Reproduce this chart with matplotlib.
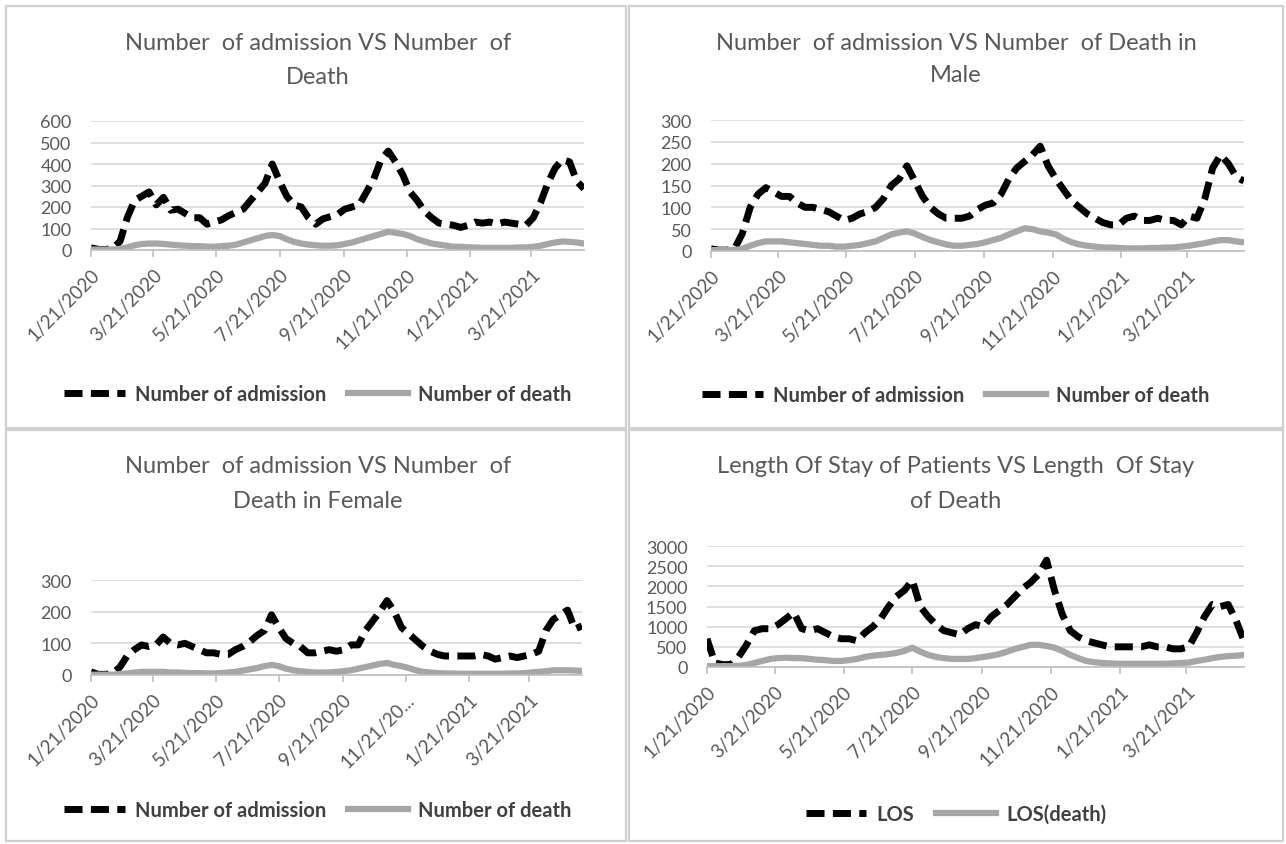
import matplotlib
matplotlib.use("Agg")
import matplotlib.pyplot as plt
import pandas as pd
from matplotlib.patches import Rectangle

plt.rcParams['font.family'] = ['Lato', 'DejaVu Sans']

W, H = 1286, 845

# weekly readings from 1/21/2020 to 5/11/2021
weeks = pd.date_range('2020-01-21', periods=69, freq='7D')

admission = [10, 3, 2, 8, 40, 150, 230, 250, 270, 210,
             245, 185, 190, 170, 150, 150, 120, 130, 140, 160,
             175, 190, 230, 270, 310, 400, 320, 250, 210, 200,
             150, 120, 145, 155, 165, 190, 200, 210, 270, 330,
             420, 460, 410, 350, 270, 230, 180, 150, 125, 120,
             115, 105, 115, 130, 125, 130, 120, 130, 125, 120,
             115, 150, 220, 310, 380, 420, 410, 320, 285]
death = [2, 2, 2, 2, 5, 12, 22, 28, 30, 30,
         28, 25, 22, 20, 18, 18, 16, 15, 18, 20,
         25, 35, 45, 55, 65, 70, 65, 50, 38, 30,
         25, 22, 20, 20, 22, 28, 35, 45, 55, 65,
         75, 85, 80, 75, 65, 50, 40, 30, 25, 20,
         15, 15, 12, 12, 10, 10, 10, 10, 10, 12,
         12, 15, 20, 28, 35, 40, 38, 35, 30]

admission_male = [5, 2, 2, 5, 40, 100, 130, 145, 135, 125,
                  125, 110, 100, 100, 95, 90, 80, 70, 75, 85,
                  90, 100, 120, 150, 165, 195, 160, 125, 100, 85,
                  75, 75, 75, 80, 95, 105, 110, 130, 165, 190,
                  205, 220, 240, 195, 165, 140, 115, 100, 85, 75,
                  65, 60, 60, 75, 80, 70, 70, 75, 70, 70,
                  60, 80, 75, 120, 190, 220, 200, 170, 160]
death_male = [2, 2, 2, 2, 5, 12, 18, 22, 22, 22,
              20, 18, 16, 14, 12, 12, 10, 10, 12, 14,
              18, 22, 30, 38, 42, 45, 40, 32, 25, 20,
              15, 12, 12, 14, 16, 20, 25, 30, 38, 45,
              52, 50, 45, 42, 38, 28, 20, 15, 12, 10,
              8, 8, 7, 6, 6, 6, 7, 7, 8, 8,
              10, 12, 15, 18, 22, 25, 25, 22, 20]

admission_female = [10, 2, 2, 5, 25, 60, 80, 95, 90, 95,
                    120, 100, 95, 100, 90, 80, 70, 70, 65, 65,
                    80, 90, 105, 125, 140, 190, 150, 115, 100, 90,
                    70, 70, 75, 80, 75, 80, 95, 95, 140, 170,
                    200, 235, 200, 150, 130, 110, 90, 75, 65, 60,
                    60, 60, 60, 60, 65, 60, 50, 55, 60, 55,
                    60, 65, 75, 140, 175, 190, 205, 145, 155]
death_female = [1, 1, 1, 1, 3, 5, 8, 10, 10, 10,
                10, 8, 8, 7, 6, 6, 5, 5, 6, 8,
                10, 14, 18, 22, 28, 32, 28, 20, 15, 12,
                10, 8, 8, 8, 10, 12, 15, 20, 25, 30,
                35, 38, 32, 28, 22, 15, 10, 8, 6, 5,
                5, 4, 4, 4, 4, 4, 4, 4, 5, 5,
                6, 8, 10, 12, 15, 15, 15, 14, 13]

los = [700, 100, 60, 60, 250, 550, 900, 950, 950, 1050,
       1200, 1350, 950, 900, 950, 850, 750, 700, 700, 650,
       850, 1000, 1200, 1500, 1750, 1900, 2150, 1500, 1250, 1050,
       900, 850, 800, 950, 1050, 1000, 1250, 1400, 1550, 1750,
       1950, 2100, 2300, 2650, 1900, 1300, 900, 750, 650, 600,
       550, 500, 500, 500, 500, 500, 550, 500, 500, 450,
       450, 500, 850, 1250, 1550, 1500, 1550, 1150, 650]
los_death = [20, 20, 20, 20, 30, 50, 100, 150, 200, 220,
             230, 220, 220, 200, 180, 170, 150, 150, 170, 200,
             250, 280, 300, 320, 350, 400, 480, 380, 300, 250,
             220, 200, 200, 200, 220, 250, 280, 320, 380, 450,
             500, 550, 550, 520, 480, 400, 300, 220, 150, 120,
             100, 90, 80, 80, 80, 80, 80, 80, 80, 90,
             100, 110, 150, 180, 220, 250, 270, 280, 300]

tick_dates = pd.to_datetime(['2020-01-21', '2020-03-21', '2020-05-21', '2020-07-21',
                             '2020-09-21', '2020-11-21', '2021-01-21', '2021-03-21'])
tick_labels = ['1/21/2020', '3/21/2020', '5/21/2020', '7/21/2020',
               '9/21/2020', '11/21/2020', '1/21/2021', '3/21/2021']
tick_labels_cut = tick_labels[:5] + ['11/21/20...'] + tick_labels[6:]

TXT = '#595959'
GRID = '#d9d9d9'
BLACK_DASH = (0, (2.6, 1.2))
GREY = '#a6a6a6'

fig = plt.figure(figsize=(W / 100, H / 100), dpi=100)

# panel frames
for x0, y0, x1, y1 in [(6, 7, 626, 429), (629, 7, 1283, 429),
                       (6, 431, 626, 842), (629, 431, 1283, 842)]:
    fig.add_artist(Rectangle((x0 / W, 1 - y1 / H), (x1 - x0) / W, (y1 - y0) / H,
                             transform=fig.transFigure, fill=False,
                             edgecolor='#d0d0d0', lw=1.6))


def panel(rect, y_a, y_b, names, ymax, ystep, xlabels, title, title_y, cx, leg_y):
    x0, y0, x1, y1 = rect
    ax = fig.add_axes([x0 / W, 1 - y1 / H, (x1 - x0) / W, (y1 - y0) / H])
    l1, = ax.plot(weeks, y_a, color='black', lw=5, linestyle=BLACK_DASH,
                  dash_capstyle='butt', dash_joinstyle='round', label=names[0])
    l2, = ax.plot(weeks, y_b, color=GREY, lw=4.5, solid_joinstyle='round',
                  label=names[1])
    ax.set_xlim(pd.Timestamp('2020-01-21'), pd.Timestamp('2021-05-11'))
    ax.set_ylim(0, ymax)
    ax.set_yticks(range(0, ymax + 1, ystep))
    ax.grid(axis='y', color=GRID, lw=1.2)
    ax.set_axisbelow(True)
    for s in ['top', 'right', 'left']:
        ax.spines[s].set_visible(False)
    ax.spines['bottom'].set_color('#bfbfbf')
    ax.spines['bottom'].set_linewidth(1.2)
    ax.set_xticks(tick_dates)
    ax.set_xticklabels(xlabels, rotation=45, ha='right', va='top',
                       rotation_mode='anchor')
    ax.tick_params(axis='x', colors='#bfbfbf', labelcolor=TXT, length=5,
                   width=1.2, labelsize=13.5, pad=6)
    ax.tick_params(axis='y', length=0, labelcolor=TXT, labelsize=13, pad=14)
    for i, line in enumerate(title):
        fig.text(cx / W, 1 - title_y[i] / H, line, ha='center', va='center',
                 fontsize=17, color=TXT)
    fig.legend(handles=[l1, l2], loc='center', ncol=2, frameon=False,
               bbox_to_anchor=(cx / W, 1 - leg_y / H), handlelength=3.0,
               handletextpad=0.5, columnspacing=1.1,
               prop={'size': 14.5, 'weight': 'bold'}, labelcolor='#404040')
    return ax


panel((91, 122, 584, 251), admission, death,
      ['Number of admission', 'Number of death'], 600, 100, tick_labels,
      ['Number  of admission VS Number  of', 'Death'], (44, 78), 318, 395)

panel((711, 121, 1244, 252), admission_male, death_male,
      ['Number of admission', 'Number of death'], 300, 50, tick_labels,
      ['Number  of admission VS Number  of Death in', 'Male'], (43, 76), 956, 396)

panel((91, 581, 582, 676), admission_female, death_female,
      ['Number of admission', 'Number of death'], 300, 100, tick_labels_cut,
      ['Number  of admission VS Number  of', 'Death in Female'], (467, 502), 318, 811)

panel((707, 547, 1244, 668), los, los_death,
      ['LOS', 'LOS(death)'], 3000, 500, tick_labels,
      ['Length Of Stay of Patients VS Length  Of Stay', 'of Death'], (467, 502), 956, 815)

fig.savefig('out.png', dpi=100, facecolor='white')
